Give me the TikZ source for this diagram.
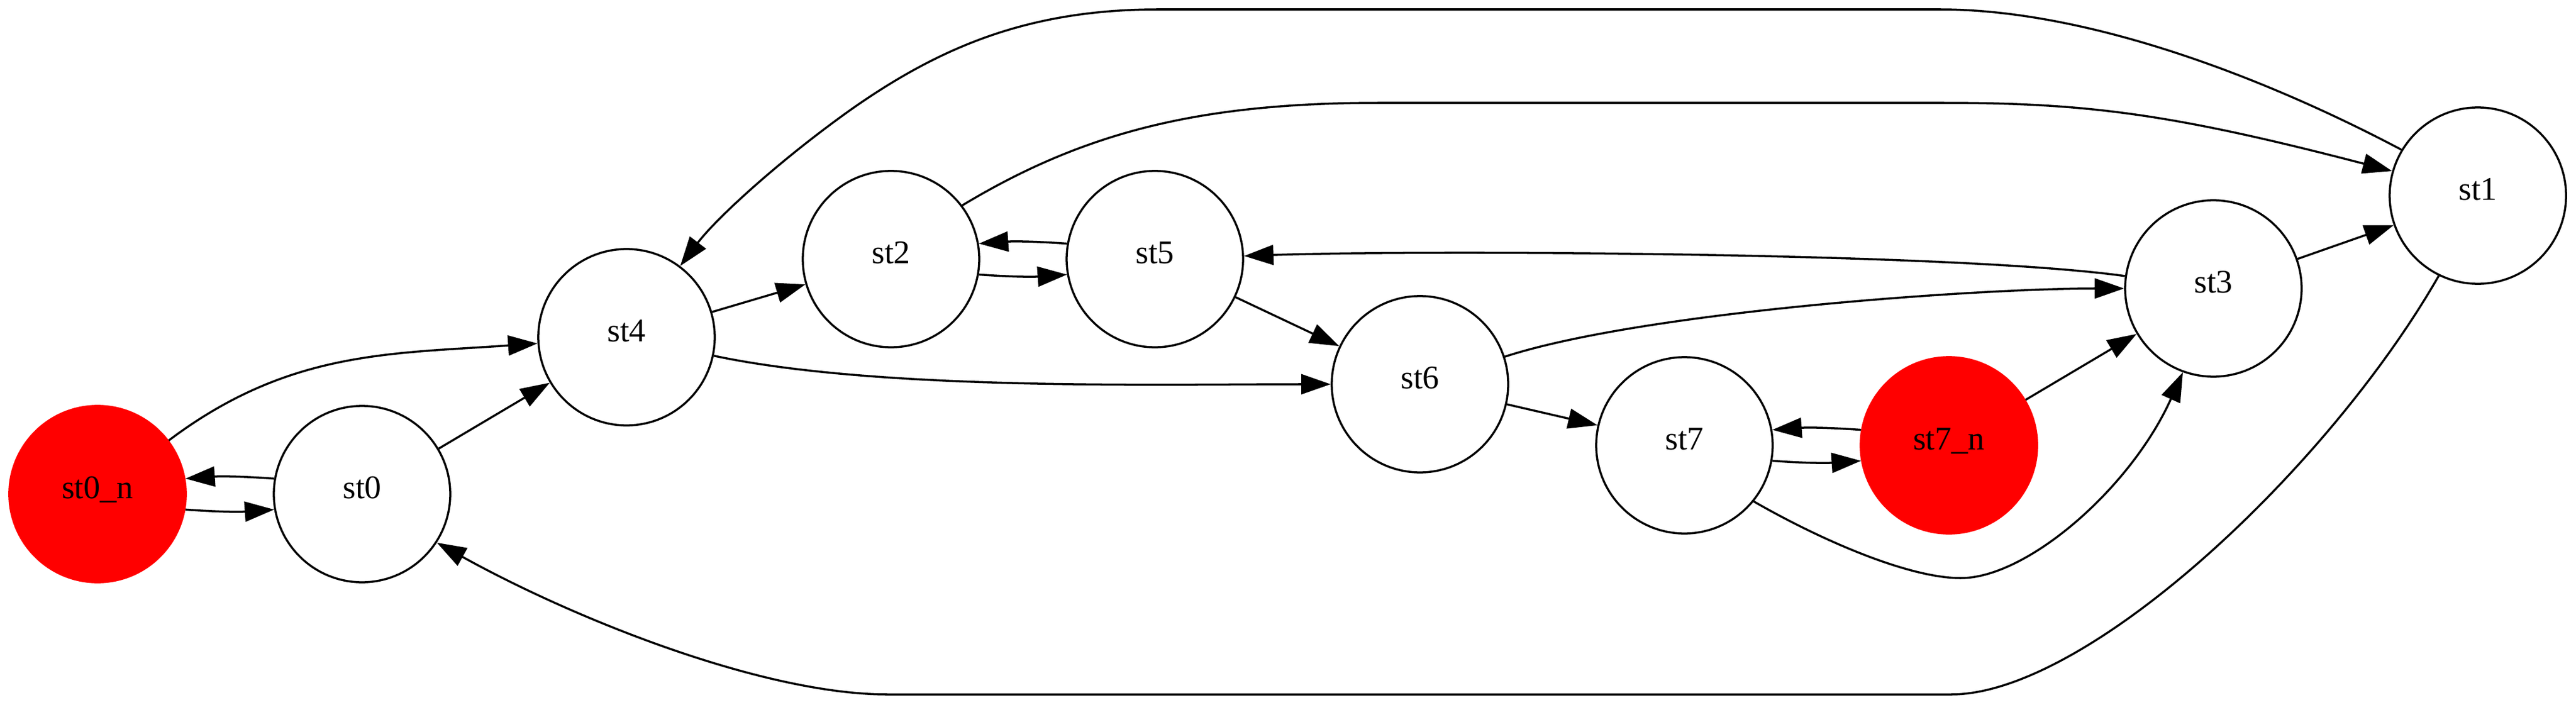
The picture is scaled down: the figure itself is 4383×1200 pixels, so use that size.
\documentclass[tikz,border=0pt]{standalone}
\usepackage{fontspec}
\setmainfont{Liberation Serif}
\usetikzlibrary{arrows.meta}

\begin{document}
\begin{tikzpicture}[x=0.01cm,y=-0.01cm,>={Triangle[length=5mm,width=3.4mm]},
allapot/.style={circle,minimum size=3cm,inner sep=0pt,line width=1pt,draw=black,
text height=.7em,text depth=.25em,font=\fontsize{16}{19}\selectfont},
jelolt/.style={allapot,draw=red,fill=red}]

\useasboundingbox (0,0) rectangle (4383,1200);

\node[jelolt](st0_n) at (166,841){st0\_n};
\node[allapot](st0) at (616,841){st0};
\node[allapot](st4) at (1066,574){st4};
\node[allapot](st2) at (1516,441){st2};
\node[allapot](st5) at (1965,441){st5};
\node[allapot](st6) at (2416,654){st6};
\node[allapot](st7) at (2866,758){st7};
\node[jelolt](st7_n) at (3316,758){st7\_n};
\node[allapot](st3) at (3766,491){st3};
\node[allapot](st1) at (4216,333){st1};

\begin{scope}[->, line width=1pt]
\draw (st0.170) to[bend right=4] (st0_n.10);
\draw (st0_n.-10) to[bend right=4] (st0.190);
\draw (st2.-10) to[bend right=4] (st5.190);
\draw (st5.170) to[bend right=4] (st2.10);
\draw (st7.-10) to[bend right=4] (st7_n.190);
\draw (st7_n.170) to[bend right=4] (st7.10);
\draw (st0)--(st4);
\draw (st4)--(st2);
\draw (st5)--(st6);
\draw (st6)--(st7);
\draw (st7_n)--(st3);
\draw (st3)--(st1);
\draw (st0_n) to[out=37,in=184] (st4);
\draw (st4) to[out=-12,in=180,looseness=.7] (st6);
\draw (st6) to[out=18,in=180,looseness=.6] (st3);
\draw (st3) to[out=172,in=2,looseness=.5] (st5);
\draw (st2.37) .. controls (1850,221) and (2050,175) .. (2350,175) -- (3300,175)
  .. controls (3550,175) and (3693,193) .. (st1.164);
\draw (st1.149) .. controls (3850,130) and (3550,16) .. (3300,16) -- (1971,16)
  .. controls (1750,16) and (1600,80) .. (1450,185)
  .. controls (1330,270) and (1220,370) .. (st4.53);
\draw (st1.244) .. controls (3960,800) and (3550,1182) .. (3320,1182) -- (1510,1182)
  .. controls (1300,1182) and (980,1055) .. (st0.-33);
\draw (st7.-39) .. controls (3105,923) and (3250,984) .. (3336,984)
  .. controls (3450,984) and (3626,830) .. (st3.250);
\end{scope}
\end{tikzpicture}
\end{document}
